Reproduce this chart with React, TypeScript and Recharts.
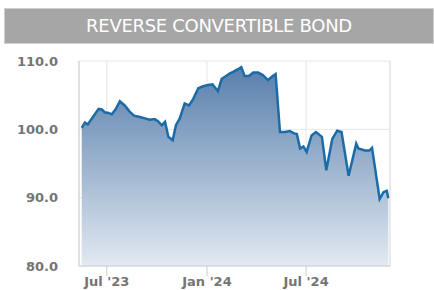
import React from 'react';
import {
  AreaChart,
  Area,
  XAxis,
  YAxis,
  CartesianGrid,
  ReferenceLine
} from 'recharts';

const dates = [
  '2023-05-16', '2023-05-22', '2023-05-27', '2023-06-16', '2023-06-22', '2023-06-27',
  '2023-07-04', '2023-07-10', '2023-07-17', '2023-07-25', '2023-08-03', '2023-08-12',
  '2023-08-20', '2023-08-31', '2023-09-09', '2023-09-18', '2023-09-27', '2023-10-03',
  '2023-10-10', '2023-10-16', '2023-10-22', '2023-10-30', '2023-11-05', '2023-11-12',
  '2023-11-21', '2023-11-29', '2023-12-07', '2023-12-16', '2023-12-25', '2024-01-03',
  '2024-01-11', '2024-01-21', '2024-01-28', '2024-02-03', '2024-02-12', '2024-02-18',
  '2024-02-27', '2024-03-04', '2024-03-10', '2024-03-18', '2024-03-26', '2024-04-04',
  '2024-04-13', '2024-04-22', '2024-04-29', '2024-05-06', '2024-05-14', '2024-05-23',
  '2024-06-01', '2024-06-09', '2024-06-14', '2024-06-20', '2024-06-26', '2024-07-02',
  '2024-07-11', '2024-07-19', '2024-07-30', '2024-08-07', '2024-08-18', '2024-08-27',
  '2024-09-04', '2024-09-17', '2024-10-01', '2024-10-05', '2024-10-17', '2024-10-25',
  '2024-10-30', '2024-11-13', '2024-11-20', '2024-11-26', '2024-11-29'
];

const prices = [
  100.2, 101.0, 100.7, 103.0, 102.9, 102.5,
  102.4, 102.2, 102.9, 104.1, 103.5, 102.6,
  102.0, 101.8, 101.6, 101.4, 101.5, 101.2,
  100.6, 101.1, 98.9, 98.4, 100.6, 101.6,
  103.8, 103.5, 104.5, 106.0, 106.3, 106.5,
  106.6, 105.6, 107.4, 107.7, 108.2, 108.4,
  108.8, 109.1, 107.8, 107.8, 108.3, 108.3,
  107.9, 107.2, 107.7, 108.1, 99.6, 99.6,
  99.75, 99.4, 99.3, 97.2, 97.5, 96.7,
  99.1, 99.6, 98.9, 94.0, 98.6, 99.8,
  99.6, 93.2, 97.9, 97.2, 96.9, 96.9,
  97.3, 89.8, 90.8, 91.0, 89.9
];

const xTickDates = ['2023-07-01', '2024-01-01', '2024-07-01'];
const yTicks = [80, 90, 100, 110];
const months = ['Jan', 'Feb', 'Mar', 'Apr', 'May', 'Jun', 'Jul', 'Aug', 'Sep', 'Oct', 'Nov', 'Dec'];

const toTime = (d: string) => new Date(d + 'T00:00:00Z').getTime();

const data = dates.map((d, i) => ({ t: toTime(d), price: prices[i] }));
const xTicks = xTickDates.map(toTime);
const xMin = toTime('2023-05-11');
const xMax = toTime('2024-12-02');

const fmtDate = (t: number) => {
  const d = new Date(t);
  return `${months[d.getUTCMonth()]} '${String(d.getUTCFullYear()).slice(2)}`;
};

const tickStyle = {
  fontFamily: 'DejaVu Sans',
  fontWeight: 'bold' as const,
  fontSize: 13,
  fill: '#747474'
};

const App: React.FC = () => {
  return (
    <div style={{ position: 'absolute', left: 0, top: 0, width: 434, height: 290, background: '#fff', overflow: 'hidden' }}>
      <div
        style={{
          position: 'absolute',
          left: 4,
          top: 8,
          width: 428,
          height: 34,
          background: '#a6a6a6',
          border: '1px solid #cfcfcf',
          color: '#fff',
          fontFamily: 'DejaVu Sans',
          fontSize: 18,
          letterSpacing: -0.3,
          lineHeight: '34px',
          textAlign: 'center'
        }}
      >
        REVERSE CONVERTIBLE BOND
      </div>
      <AreaChart
        width={434}
        height={290}
        data={data}
        margin={{ top: 61, right: 44, bottom: 0, left: 0 }}
        style={{ position: 'absolute', left: 0, top: 0 }}
      >
        <defs>
          <linearGradient id="bondFill" x1="0" y1="0" x2="0" y2="1">
            <stop offset="0%" stopColor="#587fac" />
            <stop offset="100%" stopColor="#e2e9f1" />
          </linearGradient>
        </defs>
        <CartesianGrid stroke="#e6e6e6" />
        <XAxis
          dataKey="t"
          type="number"
          scale="time"
          domain={[xMin, xMax]}
          ticks={xTicks}
          tickFormatter={fmtDate}
          height={24}
          tickSize={10}
          tickMargin={1}
          stroke="#cccccc"
          tick={tickStyle}
        />
        <YAxis
          type="number"
          domain={[80, 110]}
          ticks={yTicks}
          tickFormatter={(v: number) => v.toFixed(1)}
          width={79}
          tickLine={false}
          tickSize={0}
          tickMargin={21}
          stroke="#cccccc"
          tick={tickStyle}
        />
        <ReferenceLine x={xMax} stroke="#e0e0e0" />
        <Area
          type="linear"
          dataKey="price"
          stroke="#1b6ba8"
          strokeWidth={2.5}
          fill="url(#bondFill)"
          fillOpacity={1}
          baseValue={80}
          isAnimationActive={false}
          dot={false}
          activeDot={false}
        />
      </AreaChart>
    </div>
  );
};

export default App;
